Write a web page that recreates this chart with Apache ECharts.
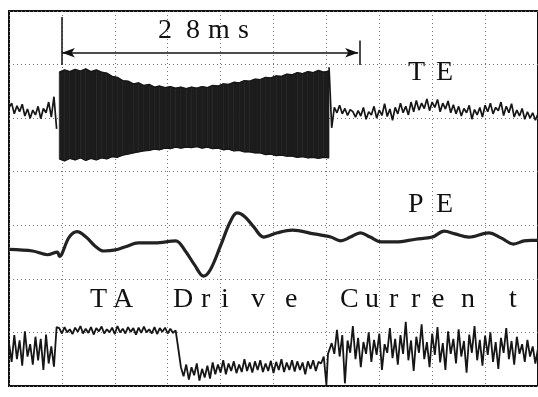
<!DOCTYPE html>
<html>
<head>
<meta charset="utf-8">
<script src="https://cdn.jsdelivr.net/npm/echarts@6/dist/echarts.min.js"></script>
<style>
  html, body { margin: 0; padding: 0; background: #fff; }
  #chart { width: 538px; height: 397px; }
</style>
</head>
<body>
<div id="chart"></div>
<script>
// time axis in ms (5 ms / div), amplitude in screen divisions (0..7)
var dt = 0.25;

// TE trace before the burst, t0 = 0
var teBefore = [5.19, 5.28, 5.08, 5.23, 5.12, 5.26, 5.04, 5.17, 5.00, 5.15,
                5.06, 5.22, 4.99, 5.18, 5.10, 5.30, 5.02, 5.40, 4.80];

// TE burst envelope, step 0.5 ms from 4.75 ms
var burstT = [4.75, 5.25, 5.75, 6.25, 6.75, 7.25, 7.75, 8.25, 8.75, 9.25,
              9.75, 10.25, 10.75, 11.25, 11.75, 12.25, 12.75, 13.25, 13.75, 14.25,
              14.75, 15.25, 15.75, 16.25, 16.75, 17.25, 17.75, 18.25, 18.75, 19.25,
              19.75, 20.25, 20.75, 21.25, 21.75, 22.25, 22.75, 23.25, 23.75, 24.25,
              24.75, 25.25, 25.75, 26.25, 26.75, 27.25, 27.75, 28.25, 28.75, 29.25,
              29.75, 30.25];
var burstTop = [5.86, 5.90, 5.87, 5.91, 5.88, 5.92, 5.87, 5.90, 5.86, 5.84,
                5.78, 5.76, 5.70, 5.69, 5.64, 5.66, 5.61, 5.63, 5.58, 5.60,
                5.57, 5.59, 5.56, 5.58, 5.55, 5.58, 5.56, 5.59, 5.57, 5.61,
                5.60, 5.64, 5.63, 5.67, 5.66, 5.70, 5.69, 5.73, 5.72, 5.76,
                5.75, 5.79, 5.78, 5.82, 5.81, 5.85, 5.83, 5.87, 5.85, 5.89,
                5.86, 5.88];
var burstBottom = [4.24, 4.20, 4.25, 4.22, 4.26, 4.21, 4.25, 4.22, 4.26, 4.24,
                   4.28, 4.27, 4.31, 4.33, 4.35, 4.37, 4.39, 4.40, 4.42, 4.41,
                   4.44, 4.43, 4.46, 4.44, 4.46, 4.45, 4.47, 4.44, 4.46, 4.43,
                   4.44, 4.41, 4.42, 4.39, 4.40, 4.37, 4.37, 4.35, 4.35, 4.32,
                   4.33, 4.30, 4.31, 4.29, 4.29, 4.27, 4.28, 4.26, 4.27, 4.25,
                   4.27, 4.26];

// TE trace after the burst, t0 = 30.25
var teAfter = [5.95, 4.82, 5.20, 5.10, 5.24, 5.08, 5.18, 5.05,
               5.16, 5.12, 5.02, 5.14, 5.04, 5.20, 4.98, 5.12,
               5.06, 5.22, 5.00, 5.15, 5.05, 5.27, 5.03, 5.17,
               4.96, 5.20, 5.08, 5.28, 5.10, 5.22, 5.06, 5.30,
               5.12, 5.33, 5.15, 5.28, 5.18, 5.36, 5.14, 5.30,
               5.20, 5.35, 5.12, 5.28, 5.17, 5.32, 5.10, 5.25,
               5.08, 5.22, 5.04, 5.18, 5.10, 5.24, 4.98, 5.16,
               5.06, 5.20, 5.02, 5.24, 5.12, 5.28, 5.08, 5.20,
               5.14, 5.30, 5.05, 5.22, 5.10, 5.27, 5.02, 5.15,
               5.04, 5.18, 4.98, 5.12, 5.00, 5.10, 4.96, 5.08];

// PE trace (irregular time points)
var peT = [0, 2.24, 3.64, 4.57, 4.76, 5.69, 6.44, 7.28, 8.21, 8.96,
           10.07, 11.01, 12.22, 13.81, 15.76, 16.60, 17.54, 18.38, 19.03, 19.96,
           20.90, 21.55, 22.29, 23.13, 24.07, 25.37, 26.77, 28.82, 30.41, 31.34,
           32.28, 33.21, 34.14, 35.17, 36.57, 38.43, 40.02, 41.14, 42.16, 43.47,
           45.34, 46.55, 47.67, 48.69, 49.35, 50];
var peV = [2.55, 2.52, 2.45, 2.50, 2.42, 2.78, 2.88, 2.78, 2.60, 2.52,
           2.54, 2.60, 2.67, 2.67, 2.71, 2.54, 2.26, 2.05, 2.17, 2.60,
           3.06, 3.23, 3.16, 2.97, 2.78, 2.86, 2.91, 2.84, 2.78, 2.71,
           2.78, 2.86, 2.78, 2.69, 2.69, 2.74, 2.78, 2.89, 2.84, 2.78,
           2.86, 2.76, 2.65, 2.71, 2.72, 2.72];

// TA drive current
var taBefore = [0.80, 0.45, 0.95, 0.50, 0.85, 0.38, 1.02, 0.55, 0.78, 0.40,
                0.92, 0.48, 0.88, 0.30, 0.96, 0.42, 0.74, 0.36, 1.10];       // t0 = 0
var taHigh = [1.08, 0.98, 1.10, 1.00, 1.06, 0.97, 1.09, 1.01, 1.12, 0.98,
              1.07, 0.99, 1.10, 0.96, 1.08, 1.02, 1.11, 0.98, 1.06, 1.00,
              1.09, 0.97, 1.12, 1.00, 1.07, 0.98, 1.10, 1.01, 1.08, 0.96,
              1.09, 0.99, 1.11, 1.00, 1.06, 0.98, 1.10, 0.97, 1.08, 1.01,
              1.09, 0.98, 1.07, 0.99, 1.04];                                 // t0 = 4.75
var taFall = [[16.0, 0.70], [16.25, 0.35]];
var taLow = [0.18, 0.40, 0.12, 0.35, 0.20, 0.42, 0.10, 0.32,
             0.16, 0.38, 0.14, 0.44, 0.22, 0.40, 0.25, 0.48,
             0.22, 0.42, 0.28, 0.46, 0.24, 0.40, 0.26, 0.50,
             0.28, 0.44, 0.25, 0.46, 0.30, 0.48, 0.26, 0.42,
             0.28, 0.47, 0.24, 0.45, 0.30, 0.50, 0.26, 0.44,
             0.30, 0.48, 0.27, 0.46, 0.30, 0.44, 0.22, 0.46,
             0.32, 0.48, 0.28, 0.45, 0.42, 0.55];                           // t0 = 16.5
var taSpike = [[30.0, 0.02], [30.15, 0.60]];
var taAfter = [0.80, 0.60, 1.05, 0.55, 0.95, 0.05, 0.85, 0.62,
               1.12, 0.50, 0.90, 0.35, 0.82, 0.60, 1.00, 0.45,
               0.86, 0.58, 0.98, 0.30, 0.78, 0.62, 1.08, 0.52,
               0.88, 0.40, 0.95, 0.60, 1.20, 0.48, 0.85, 0.28,
               0.92, 0.62, 1.15, 0.50, 0.82, 0.35, 0.98, 0.58,
               1.10, 0.44, 0.80, 0.30, 1.02, 0.60, 0.88, 0.42,
               1.06, 0.55, 0.84, 0.25, 0.96, 0.62, 1.12, 0.48,
               0.86, 0.38, 0.94, 0.58, 1.00, 0.45, 0.82, 0.32,
               0.90, 0.62, 1.08, 0.50, 0.84, 0.40, 0.92, 0.60,
               0.78, 0.45, 0.86, 0.55, 0.74, 0.42, 0.70];                   // t0 = 30.5

function seq(t0, vals) {
    return vals.map(function (v, i) { return [t0 + i * dt, v]; });
}

var burstData = burstT.map(function (t, i) { return [t, burstTop[i], burstBottom[i]]; });
var burstTopData = burstT.map(function (t, i) { return [t, burstTop[i]]; });
var burstLowData = burstT.map(function (t, i) { return [t, burstBottom[i]]; });
var peData = peT.map(function (t, i) { return [t, peV[i]]; });
var taData = seq(0, taBefore).concat(seq(4.75, taHigh), taFall, seq(16.5, taLow), taSpike, seq(30.5, taAfter));

var ink = '#161616';
var serif = '28px "Liberation Serif", "DejaVu Serif", serif';

// annotation letters: [char, left x, middle y]
var letters = [
    ['2', 158, 31], ['8', 186, 31], ['m', 208, 31], ['s', 238, 31],
    ['T', 408, 73], ['E', 436, 73],
    ['P', 408, 205], ['E', 436, 205],
    ['T', 90, 300], ['A', 113, 300], ['D', 173, 300], ['r', 201, 300], ['i', 221, 300],
    ['v', 251, 300], ['e', 285, 300], ['C', 340, 300], ['u', 365, 300], ['r', 389, 300],
    ['r', 411, 300], ['e', 432, 300], ['n', 461, 300], ['t', 509, 300]
];

// filled quad between consecutive envelope samples
function renderBurst(params, api) {
    var i = params.dataIndex;
    if (i >= burstData.length - 1) return null;
    var a = burstData[i], b = burstData[i + 1];
    var pts = [
        api.coord([a[0], a[1]]), api.coord([b[0], b[1]]),
        api.coord([b[0], b[2]]), api.coord([a[0], a[2]])
    ];
    return {
        type: 'polygon',
        shape: { points: pts },
        style: { fill: '#1c1c1c', stroke: '#1c1c1c', lineWidth: 0.6 }
    };
}

var myChart = echarts.init(document.getElementById('chart'));
var baseLine = { showSymbol: false, symbol: 'none', silent: true, animation: false };

var option = {
    animation: false,
    backgroundColor: '#fff',
    grid: {
        left: 9, top: 11, width: 536, height: 375,
        show: true, borderColor: '#111', borderWidth: 2, backgroundColor: 'transparent'
    },
    xAxis: {
        type: 'value', min: 0, max: 50, interval: 5,
        axisLine: { show: false }, axisTick: { show: false }, axisLabel: { show: false },
        splitLine: { show: true, lineStyle: { color: '#777', width: 1, type: [1, 3] } }
    },
    yAxis: {
        type: 'value', min: 0, max: 7, interval: 1,
        axisLine: { show: false }, axisTick: { show: false }, axisLabel: { show: false },
        splitLine: { show: true, lineStyle: { color: '#777', width: 1, type: [1, 3] } }
    },
    graphic: letters.map(function (l) {
        return {
            type: 'text', x: l[1], y: l[2], silent: true, z: 100,
            style: { text: l[0], font: serif, fill: '#111', verticalAlign: 'middle' }
        };
    }),
    series: [
        Object.assign({
            type: 'line', data: seq(0, teBefore),
            lineStyle: { color: ink, width: 1.7 },
            markLine: {
                silent: true, animation: false, symbol: ['none', 'none'],
                label: { show: false },
                lineStyle: { color: '#111', width: 1.5, type: 'solid' },
                data: [
                    [{ coord: [5, 6.22], symbol: 'arrow', symbolSize: [7, 13] },
                     { coord: [33, 6.22], symbol: 'arrow', symbolSize: [7, 13] }],
                    [{ coord: [4.95, 5.99] }, { coord: [4.95, 6.89] }],
                    [{ coord: [33.15, 5.99] }, { coord: [33.15, 6.45] }]
                ]
            }
        }, baseLine),
        {
            type: 'custom', data: burstData, renderItem: renderBurst,
            encode: { x: 0, y: [1, 2] }, silent: true, animation: false
        },
        Object.assign({
            type: 'line', data: burstTopData,
            lineStyle: { color: ink, width: 1.3 }
        }, baseLine),
        Object.assign({
            type: 'line', data: burstLowData,
            lineStyle: { color: ink, width: 1.3 }
        }, baseLine),
        Object.assign({
            type: 'line', data: seq(30.25, teAfter),
            lineStyle: { color: ink, width: 1.7 }
        }, baseLine),
        Object.assign({
            type: 'line', data: peData, smooth: 0.35,
            lineStyle: { color: '#222', width: 3.2 }
        }, baseLine),
        Object.assign({
            type: 'line', data: taData,
            lineStyle: { color: ink, width: 1.8 }
        }, baseLine)
    ]
};
option && myChart.setOption(option);
window.addEventListener('resize', function () { myChart.resize(); });
</script>
</body>
</html>
